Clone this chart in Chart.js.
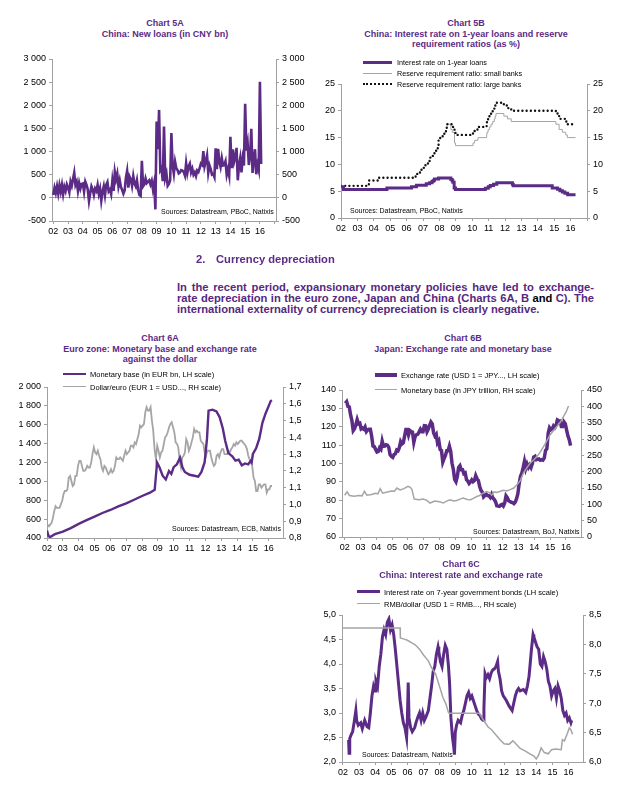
<!DOCTYPE html>
<html>
<head>
<meta charset="utf-8">
<script src="https://cdn.jsdelivr.net/npm/chart.js@4.4.1/dist/chart.umd.min.js"></script>
<style>
  body { margin: 0; background: #fff; }
  #page { position: relative; width: 640px; height: 800px; overflow: hidden;
          font-family: "Liberation Sans", Arial, sans-serif; color: #000; }
  canvas { position: absolute; }
  .title { position: absolute; width: 320px; text-align: center; font-weight: bold;
           font-size: 9px; line-height: 10.5px; color: #5b2b86; white-space: nowrap; }
  .src { position: absolute; font-size: 7px; line-height: 8px; white-space: nowrap; }
  .leg { position: absolute; font-size: 7.5px; line-height: 9px; white-space: nowrap; }
  .key { position: absolute; height: 0; }
  .head { position: absolute; top: 253px; font-weight: bold; font-size: 11.2px; line-height: 12px; color: #5b2b86; }
  .para { position: absolute; left: 177px; width: 417px; font-weight: bold; font-size: 11.2px;
          line-height: 11px; color: #56287f; white-space: nowrap; }
  .just { text-align: justify; text-align-last: justify; }
</style>
</head>
<body>
<div id="page">

  <!-- CHART 5A -->
  <div class="title" style="left:5px; top:18px;">Chart 5A<br>China: New loans (in CNY bn)</div>
  <canvas id="chart5a" width="320" height="190" style="left:0; top:50px;"></canvas>
  <div class="src" style="left:161px; top:208px;">Sources: Datastream, PBoC, Natixis</div>

  <!-- CHART 5B -->
  <div class="title" style="left:306px; top:18px;">Chart 5B<br>China: Interest rate on 1-year loans and reserve<br>requirement ratios (as %)</div>
  <canvas id="chart5b" width="320" height="165" style="left:320px; top:75px;"></canvas>
  <div class="key" style="left:363px; top:60.5px; width:29px; border-top:3px solid #5b2b86;"></div>
  <div class="leg" style="left:397px; top:57.5px; font-size:7.2px;">Interest rate on 1-year loans</div>
  <div class="key" style="left:363px; top:72.5px; width:29px; border-top:1px solid #a5a5a5;"></div>
  <div class="leg" style="left:397px; top:68.5px; font-size:7.2px;">Reserve requirement ratio: small banks</div>
  <div class="key" style="left:363px; top:83px; width:29px; border-top:2.5px dotted #111;"></div>
  <div class="leg" style="left:397px; top:79.5px; font-size:7.2px;">Reserve requirement ratio: large banks</div>
  <div class="src" style="left:350px; top:207px;">Sources: Datastream, PBoC, Natixis</div>

  <!-- TEXT -->
  <div class="head" style="left:196px;">2.</div>
  <div class="head" style="left:216px;">Currency depreciation</div>
  <div class="para just" style="top:282px;">In the recent period, expansionary monetary policies have led to exchange-</div>
  <div class="para just" style="top:293px;">rate depreciation in the euro zone, Japan and China (Charts 6A, B <span style="color:#000">and</span> C). The</div>
  <div class="para" style="top:304px;">international externality of currency depreciation is clearly negative.</div>

  <!-- CHART 6A -->
  <div class="title" style="left:0px; top:333px;">Chart 6A<br>Euro zone: Monetary base and exchange rate<br>against the dollar</div>
  <canvas id="chart6a" width="320" height="182" style="left:0; top:378px;"></canvas>
  <div class="key" style="left:63px; top:372.75px; width:23px; border-top:2.5px solid #5b2b86;"></div>
  <div class="leg" style="left:90px; top:369.5px;">Monetary base (in EUR bn, LH scale)</div>
  <div class="key" style="left:63px; top:386.25px; width:23px; border-top:1.5px solid #a5a5a5;"></div>
  <div class="leg" style="left:90px; top:382.5px;">Dollar/euro (EUR 1 = USD..., RH scale)</div>
  <div class="src" style="left:172px; top:525px;">Sources: Datastream, ECB, Natixis</div>

  <!-- CHART 6B -->
  <div class="title" style="left:303px; top:333px;">Chart 6B<br>Japan: Exchange rate and monetary base</div>
  <canvas id="chart6b" width="325" height="179" style="left:315px; top:381px;"></canvas>
  <div class="key" style="left:375px; top:373px; width:22px; border-top:4px solid #5b2b86;"></div>
  <div class="leg" style="left:401px; top:370.5px;">Exchange rate (USD 1 = JPY..., LH scale)</div>
  <div class="key" style="left:375px; top:389.25px; width:22px; border-top:1.5px solid #a5a5a5;"></div>
  <div class="leg" style="left:401px; top:385.5px;">Monetary base (in JPY trillion, RH scale)</div>
  <div class="src" style="left:473px; top:528px;">Sources: Datastream, BoJ, Natixis</div>

  <!-- CHART 6C -->
  <div class="title" style="left:301px; top:559px;">Chart 6C<br>China: Interest rate and exchange rate</div>
  <canvas id="chart6c" width="325" height="184" style="left:315px; top:606px;"></canvas>
  <div class="key" style="left:357px; top:590.25px; width:23px; border-top:3.5px solid #5b2b86;"></div>
  <div class="leg" style="left:384px; top:587.5px;">Interest rate on 7-year government bonds (LH scale)</div>
  <div class="key" style="left:357px; top:603.25px; width:23px; border-top:1.5px solid #a5a5a5;"></div>
  <div class="leg" style="left:384px; top:599.5px;">RMB/dollar (USD 1 = RMB..., RH scale)</div>
  <div class="src" style="left:362px; top:751px;">Sources: Datastream, Natixis</div>
</div>

<script>
/* DATA */

const yearTicks = [2002, 2003, 2004, 2005, 2006, 2007, 2008, 2009, 2010, 2011, 2012, 2013, 2014, 2015, 2016, 2017];
const yearLabels = ['02', '03', '04', '05', '06', '07', '08', '09', '10', '11', '12', '13', '14', '15', '16'];

// Chart 5A: monthly new loans, Jan 2002 - Feb 2016 (CNY bn)
const newLoans = [
  60, 220, 110, 250, 90, 270, 130, 280, 80, 240, 150, 290,
  220, 120, 350, 260, 400, 540, 280, 350, 150, 320, 200, 300,
  310, 130, 350, 280, 180, -70, 100, 250, 180, 60, 200, 150,
  280, 90, 200, -60, 130, 250, 60, 280, 340, 140, 180, 80,
  370, 150, 560, 400, 520, 250, 380, 230, 170, 90, 160, 430,
  580, 220, 460, 400, 260, 470, 310, 250, 380, 170, 60, 40,
  800, 250, 290, 420, 320, 350, 380, 290, 370, 190, 330, -250,
  1650, 1050, 1900, 600, 650, 360, 1540, 420, 520, 260, 300, 380,
  1400, 700, 520, 780, 640, 600, 530, 550, 600, 590, 560, 480,
  750, 540, 680, 740, 550, 630, 500, 550, 470, 590, 560, 640,
  740, 710, 1010, 680, 790, 920, 540, 700, 620, 505, 520, 450,
  1070, 620, 1060, 790, 670, 860, 700, 710, 790, 500, 620, 480,
  1320, 640, 1050, 770, 870, 1080, 380, 700, 860, 550, 850, 700,
  2030, 1020, 1180, 710, 900, 1490, 540, 810, 1050, 510, 710, 600,
  2510, 730
];
const loansTicks = [-500, 0, 500, 1000, 1500, 2000, 2500, 3000];

// Chart 5B: step series (date of change, new level in %)
const loanRateDates = [2002.0, 2002.15, 2004.8, 2006.3, 2006.6, 2007.2, 2007.4, 2007.55, 2007.65, 2007.7, 2007.95,
  2008.7, 2008.78, 2008.82, 2008.9, 2008.98, 2010.8, 2010.98, 2011.1, 2011.3, 2011.5, 2012.45, 2012.5,
  2014.88, 2015.2, 2015.35, 2015.5, 2015.65, 2015.82, 2016.3];
const loanRate = [5.85, 5.31, 5.58, 5.85, 6.12, 6.39, 6.57, 6.84, 7.02, 7.29, 7.47,
  7.20, 6.93, 6.66, 5.58, 5.31, 5.56, 5.81, 6.06, 6.31, 6.56, 6.31, 6.00,
  5.60, 5.35, 5.10, 4.85, 4.60, 4.35, 4.35];
const rrrSmallDates = [2008.45, 2008.7, 2008.78, 2008.92, 2008.98, 2010.05, 2010.15, 2010.35, 2010.88, 2010.9, 2010.97,
  2011.05, 2011.15, 2011.25, 2011.35, 2011.4, 2011.45, 2011.93, 2012.15, 2012.38, 2015.1, 2015.3, 2015.5, 2015.7, 2015.8, 2016.3];
const rrrSmall = [17.5, 16.5, 16, 14, 13.5, 14, 14.5, 15, 15.5, 16, 16.5,
  17, 17.5, 18, 18.5, 19, 19.5, 19, 18.5, 18, 17.5, 16.5, 16, 15.5, 15, 15];
const rrrLargeDates = [2002.0, 2003.7, 2004.3, 2006.55, 2006.65, 2006.9, 2007.05, 2007.15, 2007.3, 2007.4, 2007.45,
  2007.6, 2007.7, 2007.8, 2007.9, 2007.95, 2008.05, 2008.2, 2008.3, 2008.4, 2008.45, 2008.78, 2008.92, 2008.98,
  2010.05, 2010.15, 2010.35, 2010.88, 2010.9, 2010.97, 2011.05, 2011.15, 2011.25, 2011.35, 2011.4, 2011.45,
  2011.93, 2012.15, 2012.38, 2015.1, 2015.3, 2015.7, 2015.8, 2016.3];
const rrrLarge = [6, 7, 7.5, 8, 8.5, 9, 9.5, 10, 10.5, 11, 11.5,
  12, 12.5, 13, 13.5, 14.5, 15, 15.5, 16, 16.5, 17.5, 17, 16, 15.5,
  16, 16.5, 17, 17.5, 18, 18.5, 19, 19.5, 20, 20.5, 21, 21.5,
  21, 20.5, 20, 19.5, 18.5, 18, 17.5, 17.5];
const ratioTicks = [0, 5, 10, 15, 20, 25];

// Chart 6A
const ecbBaseDates = [2002.0, 2002.1, 2002.2, 2002.5, 2003.0, 2003.5, 2004.0, 2004.5, 2005.0, 2005.5,
  2006.0, 2006.5, 2007.0, 2007.5, 2008.0, 2008.5, 2008.8, 2008.95, 2009.1, 2009.3, 2009.5, 2009.7, 2009.85,
  2010.0, 2010.2, 2010.4, 2010.55, 2010.7, 2011.0, 2011.3, 2011.55, 2011.75, 2011.95,
  2012.1, 2012.2, 2012.45, 2012.7, 2012.9, 2013.1, 2013.25, 2013.45, 2013.7, 2013.9,
  2014.1, 2014.3, 2014.5, 2014.7, 2014.85, 2014.92, 2015.0, 2015.2, 2015.4, 2015.6, 2015.8, 2016.0, 2016.12, 2016.2];
const ecbBase = [480, 420, 410, 440, 467, 505, 550, 590, 626, 665,
  697, 735, 767, 805, 845, 880, 910, 1200, 1150, 1060, 1020, 1110, 1080,
  1150, 1180, 1250, 1150, 1100, 1070, 1060, 1050, 1100, 1200,
  1450, 1750, 1760, 1740, 1680, 1560, 1430, 1300, 1265, 1220,
  1230, 1170, 1190, 1180, 1215, 1200, 1290, 1350, 1450, 1620, 1720, 1800, 1850, 1860];
// monthly, Jan 2002 - Mar 2016
const eurUsd = [
  0.88, 0.87, 0.88, 0.89, 0.92, 0.96, 0.99, 0.98, 0.98, 0.98, 1.00, 1.02,
  1.06, 1.08, 1.08, 1.09, 1.16, 1.17, 1.14, 1.11, 1.12, 1.17, 1.17, 1.23,
  1.26, 1.26, 1.23, 1.20, 1.20, 1.21, 1.23, 1.22, 1.22, 1.25, 1.30, 1.34,
  1.31, 1.30, 1.32, 1.29, 1.27, 1.22, 1.20, 1.23, 1.22, 1.20, 1.18, 1.19,
  1.21, 1.19, 1.20, 1.23, 1.28, 1.27, 1.27, 1.28, 1.27, 1.26, 1.29, 1.32,
  1.30, 1.31, 1.32, 1.35, 1.35, 1.34, 1.37, 1.36, 1.39, 1.42, 1.47, 1.46,
  1.47, 1.48, 1.55, 1.58, 1.56, 1.56, 1.58, 1.50, 1.44, 1.33, 1.27, 1.35,
  1.32, 1.28, 1.31, 1.32, 1.36, 1.40, 1.41, 1.43, 1.46, 1.48, 1.49, 1.46,
  1.43, 1.37, 1.36, 1.34, 1.26, 1.22, 1.28, 1.29, 1.31, 1.39, 1.37, 1.32,
  1.34, 1.37, 1.40, 1.45, 1.43, 1.44, 1.43, 1.43, 1.38, 1.37, 1.36, 1.31,
  1.29, 1.32, 1.32, 1.32, 1.28, 1.25, 1.23, 1.24, 1.29, 1.30, 1.28, 1.31,
  1.33, 1.33, 1.30, 1.30, 1.30, 1.32, 1.31, 1.33, 1.34, 1.36, 1.35, 1.37,
  1.36, 1.37, 1.38, 1.38, 1.37, 1.36, 1.35, 1.33, 1.29, 1.27, 1.25, 1.23,
  1.16, 1.14, 1.08, 1.08, 1.12, 1.12, 1.10, 1.11, 1.12, 1.12, 1.07, 1.09,
  1.09, 1.11, 1.11
];
const ecbTicks = [400, 600, 800, 1000, 1200, 1400, 1600, 1800, 2000];
const eurTicks = [0.8, 0.9, 1.0, 1.1, 1.2, 1.3, 1.4, 1.5, 1.6, 1.7];

// Chart 6B: monthly USD/JPY, Jan 2002 - Apr 2016
const usdJpy = [
  132.7, 133.6, 131.1, 130.8, 126.4, 123.3, 117.9, 118.9, 121.1, 123.9, 121.6, 121.9,
  118.8, 119.3, 118.7, 119.9, 117.4, 118.3, 118.7, 118.7, 114.8, 109.5, 109.2, 107.7,
  106.3, 106.6, 108.5, 107.7, 112.2, 109.4, 109.5, 110.2, 110.0, 108.8, 104.7, 103.8,
  103.3, 104.9, 105.3, 107.3, 106.9, 108.6, 111.9, 110.6, 111.2, 114.9, 118.5, 118.5,
  115.5, 117.9, 117.3, 117.1, 111.5, 114.6, 115.7, 115.9, 117.2, 118.6, 117.3, 117.3,
  120.6, 120.5, 117.3, 118.8, 120.8, 122.6, 121.6, 116.7, 115.0, 115.9, 111.2, 112.3,
  107.6, 107.1, 100.8, 102.7, 104.4, 106.9, 106.9, 109.4, 106.6, 100.1, 96.9, 91.3,
  90.1, 92.8, 97.9, 98.8, 96.6, 96.6, 94.5, 94.9, 91.2, 90.4, 89.1, 89.9,
  91.1, 90.1, 90.7, 93.4, 91.7, 90.8, 87.5, 85.4, 84.4, 81.8, 82.5, 83.3,
  82.6, 82.5, 81.6, 83.2, 81.2, 80.5, 79.3, 77.0, 76.8, 76.7, 77.5, 77.8,
  76.9, 78.5, 82.4, 81.4, 79.7, 79.3, 78.9, 78.7, 78.2, 79.0, 80.9, 83.6,
  89.2, 93.1, 94.8, 97.7, 101.1, 97.3, 99.7, 97.9, 99.2, 97.8, 100.0, 103.5,
  103.9, 102.1, 102.3, 102.5, 101.8, 102.1, 101.8, 102.9, 107.1, 108.0, 116.4, 119.4,
  118.3, 118.8, 120.4, 119.5, 120.8, 123.7, 123.3, 123.2, 120.1, 120.1, 122.6, 121.6,
  118.2, 115.0, 113.0, 109.7
];
const jpBaseDates = [2002.0, 2002.15, 2002.3, 2002.6, 2002.9, 2003.1, 2003.25, 2003.4, 2003.7, 2003.95,
  2004.1, 2004.25, 2004.4, 2004.7, 2004.95, 2005.15, 2005.3, 2005.5, 2005.75,
  2006.0, 2006.15, 2006.25, 2006.4, 2006.7, 2006.97, 2007.2, 2007.4, 2007.7,
  2008.0, 2008.24, 2008.45, 2008.66, 2008.9, 2009.08, 2009.3, 2009.5, 2009.75, 2009.97,
  2010.2, 2010.35, 2010.5, 2010.67, 2010.98, 2011.15, 2011.3, 2011.45, 2011.62, 2011.85,
  2012.04, 2012.25, 2012.47, 2012.7, 2012.9, 2013.1, 2013.3, 2013.5, 2013.73,
  2014.0, 2014.16, 2014.4, 2014.58, 2014.8, 2015.0, 2015.2, 2015.42, 2015.65, 2015.85, 2016.0, 2016.16];
const jpBase = [128, 138, 127, 125, 127, 126, 140, 128, 130, 134,
  132, 148, 134, 138, 141, 140, 150, 144, 148,
  155, 152, 146, 116, 114, 116, 112, 104, 110,
  108, 104, 110, 114, 110, 112, 116, 119, 115, 114,
  120, 124, 126, 132, 139, 136, 128, 138, 136, 140,
  143, 141, 145, 150, 160, 172, 195, 210, 226,
  238, 246, 262, 277, 295, 313, 325, 338, 352, 369, 382, 401];
const jpyTicks = [60, 70, 80, 90, 100, 110, 120, 130, 140];
const jpBaseTicks = [0, 50, 100, 150, 200, 250, 300, 350, 400, 450];

// Chart 6C
const cnBondDates = [
  2002.35, 2002.38, 2002.42, 2002.5, 2002.6, 2002.7, 2002.8, 2002.85, 2002.95,
  2003.1, 2003.2, 2003.35, 2003.5, 2003.6, 2003.7, 2003.8, 2003.9,
  2004.0, 2004.05, 2004.15, 2004.25, 2004.35, 2004.45, 2004.55, 2004.65, 2004.75, 2004.85, 2004.95,
  2005.05, 2005.15, 2005.25, 2005.35, 2005.45, 2005.55, 2005.65, 2005.75, 2005.85, 2005.95,
  2006.0, 2006.05, 2006.1, 2006.2, 2006.3, 2006.45, 2006.55, 2006.65, 2006.75, 2006.85, 2006.95,
  2007.05, 2007.15, 2007.3, 2007.4, 2007.5, 2007.6, 2007.7, 2007.8, 2007.9, 2007.95,
  2008.05, 2008.15, 2008.25, 2008.35, 2008.45, 2008.55, 2008.62, 2008.7, 2008.8, 2008.88, 2008.92, 2008.97,
  2009.05, 2009.15, 2009.3, 2009.4, 2009.5, 2009.6, 2009.7, 2009.8, 2009.9,
  2010.0, 2010.1, 2010.2, 2010.3, 2010.4, 2010.5, 2010.6, 2010.7, 2010.75, 2010.82, 2010.9,
  2011.0, 2011.1, 2011.2, 2011.3, 2011.4, 2011.5, 2011.6, 2011.65, 2011.75, 2011.85, 2011.95,
  2012.05, 2012.15, 2012.3, 2012.4, 2012.5, 2012.6, 2012.7, 2012.8, 2012.9,
  2013.0, 2013.2, 2013.35, 2013.45, 2013.55, 2013.62, 2013.7, 2013.8, 2013.85, 2013.95,
  2014.05, 2014.15, 2014.25, 2014.35, 2014.45, 2014.55, 2014.65, 2014.75, 2014.85, 2014.95,
  2015.05, 2015.15, 2015.25, 2015.35, 2015.45, 2015.55, 2015.65, 2015.75, 2015.85, 2015.95,
  2016.05, 2016.15, 2016.2];
const cnBond = [
  2.45, 2.18, 2.48, 2.55, 2.62, 2.82, 3.05, 2.85, 2.75,
  2.80, 2.68, 2.85, 2.72, 2.70, 3.00, 3.35, 3.55,
  3.45, 3.65, 3.55, 3.95, 4.20, 4.55, 4.70, 4.60, 4.85, 4.92, 4.70,
  4.80, 4.60, 4.30, 3.95, 3.60, 3.25, 3.00, 2.80, 2.70, 2.50,
  2.90, 3.62, 2.90, 2.70, 2.62, 2.70, 2.82, 2.92, 3.00, 2.85, 3.00,
  2.85, 2.92, 3.05, 3.30, 3.55, 3.85, 3.95, 4.20, 4.35, 4.25,
  4.05, 3.95, 4.20, 4.38, 4.30, 3.95, 3.60, 2.90, 2.50, 2.30, 2.15, 2.60,
  2.75, 2.85, 2.80, 2.95, 3.05, 3.20, 3.35, 3.42, 3.30,
  3.35, 3.25, 3.15, 3.05, 2.98, 2.95, 2.88, 2.85, 3.10, 3.80, 3.72,
  3.78, 3.70, 3.82, 3.88, 3.90, 3.95, 4.05, 3.85, 3.70, 3.45, 3.35,
  3.30, 3.25, 3.15, 3.10, 3.05, 3.20, 3.35, 3.45, 3.50,
  3.45, 3.48, 3.42, 3.55, 3.75, 4.00, 4.30, 4.60, 4.55, 4.45,
  4.35, 4.30, 4.00, 3.95, 4.15, 4.05, 3.90, 3.65, 3.55, 3.35,
  3.45, 3.50, 3.30, 3.55, 3.45, 3.30, 3.05, 2.95, 3.00, 2.85,
  2.90, 2.80, 2.85];
const rmbDates = [2002.0, 2005.55, 2005.56, 2005.8, 2006.0, 2006.3, 2006.5, 2006.75, 2007.0, 2007.3, 2007.5, 2007.75,
  2008.0, 2008.2, 2008.4, 2008.55, 2008.6, 2010.45, 2010.55, 2010.8, 2011.0, 2011.25, 2011.5, 2011.75,
  2012.0, 2012.3, 2012.55, 2012.8, 2013.0, 2013.3, 2013.6, 2013.85, 2014.0, 2014.15, 2014.3, 2014.5, 2014.75, 2014.95,
  2015.2, 2015.55, 2015.62, 2015.75, 2015.95, 2016.05, 2016.15, 2016.25];
const rmb = [8.28, 8.28, 8.11, 8.09, 8.07, 8.02, 7.99, 7.92, 7.82, 7.72, 7.60, 7.50,
  7.28, 7.10, 6.98, 6.84, 6.83, 6.83, 6.79, 6.68, 6.60, 6.54, 6.46, 6.38,
  6.31, 6.30, 6.36, 6.29, 6.23, 6.19, 6.14, 6.10, 6.05, 6.12, 6.24, 6.16, 6.14, 6.21,
  6.22, 6.21, 6.38, 6.36, 6.50, 6.58, 6.55, 6.47];
const bondTicks = [2.0, 2.5, 3.0, 3.5, 4.0, 4.5, 5.0];
const rmbTicks = [6.0, 6.5, 7.0, 7.5, 8.0, 8.5];


/* HELPERS */

const PURPLE = '#5b2b86';
const GREY = '#a5a5a5';
const AXIS_GREY = '#a0a0a0';

Chart.defaults.font.family = '"Liberation Sans", Arial, sans-serif';
Chart.defaults.font.size = 9;
Chart.defaults.color = '#000';
Chart.defaults.animation = false;
Chart.defaults.responsive = false;
Chart.defaults.elements.point.radius = 0;
Chart.defaults.elements.line.tension = 0;
Chart.defaults.plugins.legend.display = false;
Chart.defaults.plugins.tooltip.enabled = false;

function monthly(start, values) {
  return values.map((v, i) => ({ x: start + i / 12, y: v }));
}

function pairs(dates, values) {
  return dates.map((d, i) => ({ x: d, y: values[i] }));
}

function label(v, decimals) {
  if (decimals) return v.toFixed(decimals).replace('.', ',');
  return String(v).replace(/\B(?=(\d{3})+(?!\d))/g, ' ');
}

function yAxis(position, tickValues, width, decimals) {
  return {
    type: 'linear',
    position: position,
    min: tickValues[0],
    max: tickValues[tickValues.length - 1],
    afterBuildTicks: axis => { axis.ticks = tickValues.map(v => ({ value: v })); },
    afterFit: axis => { axis.width = width; },
    ticks: { padding: 3, autoSkip: false, callback: v => label(v, decimals) },
    grid: { drawOnChartArea: false, tickLength: 3, color: AXIS_GREY },
    border: { color: AXIS_GREY }
  };
}

function xAxis(min, max, height) {
  return {
    type: 'linear',
    position: 'bottom',
    min: min,
    max: max,
    afterBuildTicks: axis => {
      axis.ticks = yearTicks.filter(v => v >= min && v <= max).map(v => ({ value: v }));
    },
    afterFit: axis => { axis.height = height; },
    ticks: { padding: 2, autoSkip: false, maxRotation: 0, callback: v => yearLabels[v - 2002] || '' },
    grid: { drawOnChartArea: false, tickLength: 3, color: AXIS_GREY },
    border: { color: AXIS_GREY }
  };
}

function draw(id, scales, datasets) {
  return new Chart(document.getElementById(id), {
    type: 'line',
    data: { datasets: datasets },
    options: { layout: { padding: { top: 9, left: 0, right: 0, bottom: 0 } }, scales: scales }
  });
}


/* CHART 5A */

const loansLeft = yAxis('left', loansTicks, 52, 0);
loansLeft.grid = {
  drawOnChartArea: true, tickLength: 3, tickColor: AXIS_GREY,
  color: ctx => (ctx.tick && ctx.tick.value === 0 ? AXIS_GREY : 'rgba(0,0,0,0)')
};
draw('chart5a', {
  x: xAxis(2001.91, 2017.09, 19),
  y: loansLeft,
  y2: yAxis('right', loansTicks, 44, 0)
}, [
  { data: monthly(2002, newLoans), borderColor: PURPLE, borderWidth: 2.6, yAxisID: 'y' }
]);


/* CHART 5B */

draw('chart5b', {
  x: xAxis(2002, 2017, 22),
  y: yAxis('left', ratioTicks, 21, 0),
  y2: yAxis('right', ratioTicks, 53, 0)
}, [
  { data: pairs(loanRateDates, loanRate), borderColor: PURPLE, borderWidth: 3, stepped: 'before', order: 0, yAxisID: 'y' },
  { data: pairs(rrrSmallDates, rrrSmall), borderColor: GREY, borderWidth: 1, stepped: 'before', order: 2, yAxisID: 'y' },
  { data: pairs(rrrLargeDates, rrrLarge), borderColor: '#111', borderWidth: 2.4, borderDash: [0, 4.2],
    borderCapStyle: 'round', stepped: 'before', order: 1, yAxisID: 'y' }
]);


/* CHART 6A */

draw('chart6a', {
  x: xAxis(2002, 2016.9, 22),
  y: yAxis('left', ecbTicks, 47, 0),
  y2: yAxis('right', eurTicks, 37, 1)
}, [
  { data: pairs(ecbBaseDates, ecbBase), borderColor: PURPLE, borderWidth: 2.4, order: 0, yAxisID: 'y' },
  { data: monthly(2002.04, eurUsd), borderColor: GREY, borderWidth: 1.8, order: 1, yAxisID: 'y2' }
]);


/* CHART 6B */

draw('chart6b', {
  x: xAxis(2001.83, 2016.95, 23),
  y: yAxis('left', jpyTicks, 27, 0),
  y2: yAxis('right', jpBaseTicks, 59, 0)
}, [
  { data: monthly(2002.04, usdJpy), borderColor: PURPLE, borderWidth: 3.5, order: 1, yAxisID: 'y' },
  { data: pairs(jpBaseDates, jpBase), borderColor: GREY, borderWidth: 1.5, order: 0, yAxisID: 'y2' }
]);


/* CHART 6C */

draw('chart6c', {
  x: xAxis(2001.94, 2016.9, 28),
  y: yAxis('left', bondTicks, 27, 1),
  y2: yAxis('right', rmbTicks, 57, 1)
}, [
  { data: pairs(cnBondDates, cnBond), borderColor: PURPLE, borderWidth: 3, order: 1, yAxisID: 'y' },
  { data: pairs(rmbDates, rmb), borderColor: GREY, borderWidth: 1.5, order: 0, yAxisID: 'y2' }
]);
</script>
</body>
</html>
